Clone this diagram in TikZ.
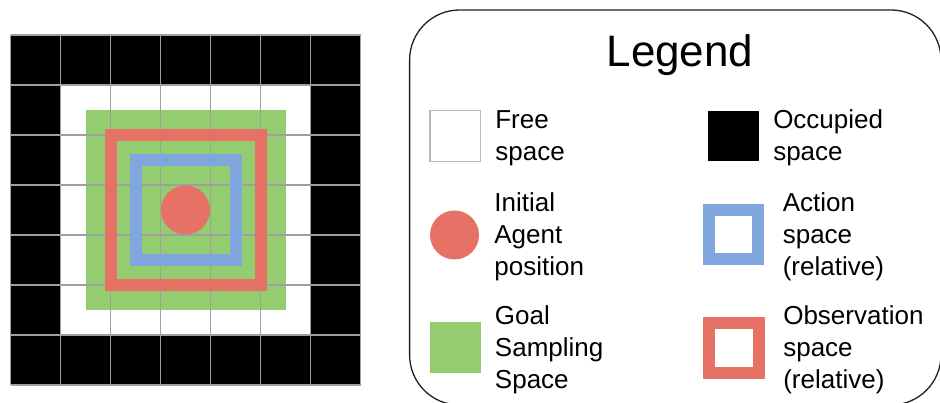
\documentclass[tikz,border=0pt]{standalone}
\usepackage{fontspec}
\setmainfont{Liberation Sans}
\usepackage{xcolor}
\usepackage{tikz}
\usetikzlibrary{positioning}

\definecolor{goalgreen}{RGB}{148,204,112}
\definecolor{obsred}{RGB}{230,114,102}
\definecolor{actblue}{RGB}{127,166,221}

\begin{document}
\begin{tikzpicture}[
    x=1pt, y=1pt,
    font=\fontsize{26}{32}\selectfont,
    cellline/.style={draw=gray!75, line width=1.2pt},
    keybox/.style={
        rectangle,
        minimum size=50.5pt,
        inner sep=0pt
    },
    ringbox/.style={
        rectangle,
        fill=white,
        minimum size=49pt,
        inner sep=0pt,
        line width=12pt
    },
    agent/.style={circle, fill=obsred, minimum size=49pt, inner sep=0pt},
    keytext/.style={align=left, inner sep=0pt, yshift=-2pt}
]

\useasboundingbox (0,0) rectangle (940,403);
\clip (0,0) rectangle (940,403);

\def\xl{455.3}
\def\xr{733.6}

% Map
\begin{scope}[shift={(10.5,18)}, x=50pt, y=50pt]
    \fill[black, even odd rule] (0,0) rectangle (7,7) (1,1) rectangle (6,6);
    \fill[goalgreen] (1.5,1.5) rectangle (5.5,5.5);
    \draw[cellline, step=50pt] (0,0) grid (7,7);
    \draw[obsred, line width=12pt] (2,2) rectangle (5,5);
    \draw[actblue, line width=12pt] (2.5,2.5) rectangle (4.5,4.5);
    \node[agent] (start) at (3.5,3.5) {};
\end{scope}

% Legend frame
\draw[gray!25!black, line width=1.3pt, rounded corners=50pt] (409.6,-2) rectangle (941,393);
\node[font=\fontsize{44}{50}\selectfont, anchor=base] (title) at (680,336.3) {Legend};

% Left column
\node[keybox, draw=gray!55, line width=1.2pt, fill=white] (free) at (\xl,267) {};
\node[keytext, right=14pt of free] (freetxt) {Free\\space};

\node[agent] (agentkey) at (454.5,168) {};
\node[keytext, right=15pt of agentkey] (agenttxt) {Initial\\Agent\\position};

\node[keybox, fill=goalgreen] (goal) at (\xl,55.3) {};
\node[keytext, right=14pt of goal] (goaltxt) {Goal\\Sampling\\Space};

% Right column
\node[keybox, fill=black] (occ) at (\xr,267) {};
\node[keytext, right=14pt of occ] (occtxt) {Occupied\\space};

\node[ringbox, draw=actblue] (act) at (\xr,168.4) {};
\node[keytext, right=18.5pt of act] (acttxt) {Action\\space\\(relative)};

\node[ringbox, draw=obsred, minimum size=50pt] (obs) at (\xr,55.2) {};
\node[keytext, right=18.5pt of obs] (obstxt) {Observation\\space\\(relative)};

\end{tikzpicture}
\end{document}
